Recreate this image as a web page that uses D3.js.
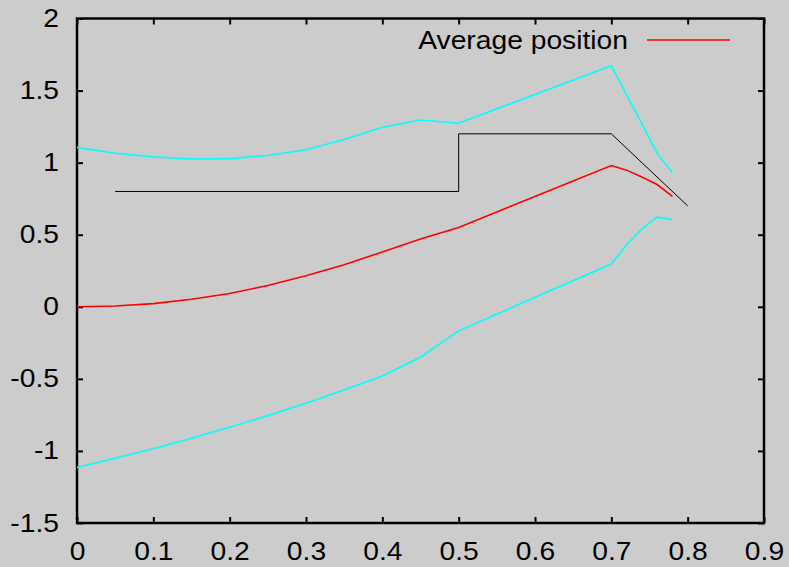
<!DOCTYPE html>
<html>
<head>
<meta charset="utf-8">
<script src="https://cdn.jsdelivr.net/npm/d3@7/dist/d3.min.js"></script>
<style>
  html, body { margin: 0; padding: 0; background: #cccccc; }
  svg { display: block; }
  text { font-family: 'Liberation Sans', Arial, sans-serif; }
</style>
</head>
<body>
<div id="plot"></div>
<script>
'use strict';

// x positions shared by the three curves
const xs = [0, 0.05, 0.1, 0.15, 0.2, 0.25, 0.3, 0.35, 0.4, 0.45, 0.5, 0.7, 0.72, 0.74, 0.76, 0.78]
const average = [0, 0.005, 0.022, 0.052, 0.092, 0.148, 0.215, 0.292, 0.38, 0.47, 0.55, 0.98, 0.948, 0.90, 0.848, 0.766]
const upper = [1.106, 1.065, 1.04, 1.025, 1.028, 1.05, 1.09, 1.16, 1.245, 1.296, 1.273, 1.672, 1.47, 1.27, 1.064, 0.93]
const lower = [-1.115, -1.05, -0.985, -0.912, -0.836, -0.755, -0.67, -0.578, -0.48, -0.35, -0.167, 0.297, 0.43, 0.54, 0.622, 0.604]

// black step line
const stepX = [0.05, 0.5, 0.5, 0.7, 0.8]
const stepY = [0.8, 0.8, 1.2, 1.2, 0.7]

const xTicks = [0, 0.1, 0.2, 0.3, 0.4, 0.5, 0.6, 0.7, 0.8, 0.9]
const yTicks = [-1.5, -1, -0.5, 0, 0.5, 1, 1.5, 2]
const legendLabel = 'Average position'

const width = 789, height = 567
const mLeft = 77, mRight = 764, mTop = 18.5, mBottom = 523
const stretch = 1.13

let svg = d3.select('#plot').append('svg')
  .attr('width', width)
  .attr('height', height)

svg.append('rect')
  .attr('width', width)
  .attr('height', height)
  .attr('fill', '#cccccc')

let x = d3.scaleLinear().domain([0, 0.9]).range([mLeft, mRight])
let y = d3.scaleLinear().domain([-1.5, 2]).range([mBottom, mTop])

let fmt = d => String(d)

let styleAxis = function(g) {
  g.select('.domain').remove()
  g.selectAll('.tick line').attr('stroke', '#000').attr('stroke-width', 2)
}

// bottom axis with labels
svg.append('g')
  .attr('transform', `translate(0, ${mBottom})`)
  .call(d3.axisBottom(x).tickValues(xTicks).tickFormat(fmt).tickSize(-6))
  .call(styleAxis)
  .call(g => g.selectAll('text')
    .attr('y', 37).attr('dy', null)
    .attr('transform', `scale(${stretch},1)`)
    .attr('font-size', 25).attr('fill', '#000')
    .attr('font-family', "'Liberation Sans', Arial, sans-serif"))

// top mirror ticks
svg.append('g')
  .attr('transform', `translate(0, ${mTop})`)
  .call(d3.axisTop(x).tickValues(xTicks).tickFormat('').tickSize(-6))
  .call(styleAxis)

// left axis with labels
svg.append('g')
  .attr('transform', `translate(${mLeft}, 0)`)
  .call(d3.axisLeft(y).tickValues(yTicks).tickFormat(fmt).tickSize(-6))
  .call(styleAxis)
  .call(g => g.selectAll('text')
    .attr('x', -18 / stretch)
    .attr('transform', `scale(${stretch},1)`)
    .attr('font-size', 25).attr('fill', '#000')
    .attr('font-family', "'Liberation Sans', Arial, sans-serif"))

// right mirror ticks
svg.append('g')
  .attr('transform', `translate(${mRight}, 0)`)
  .call(d3.axisRight(y).tickValues(yTicks).tickFormat('').tickSize(-6))
  .call(styleAxis)

// frame
svg.append('rect')
  .attr('x', mLeft)
  .attr('y', mTop)
  .attr('width', mRight - mLeft)
  .attr('height', mBottom - mTop)
  .attr('fill', 'none')
  .attr('stroke', '#000')
  .attr('stroke-width', 2.5)

let line = d3.line()
  .x(d => x(d[0]))
  .y(d => y(d[1]))

let drawSeries = function(xv, yv, color, w) {
  svg.append('path')
    .attr('d', line(xv.map((v, i) => [v, yv[i]])))
    .attr('fill', 'none')
    .attr('stroke', color)
    .attr('stroke-width', w)
    .attr('stroke-linejoin', 'miter')
}

drawSeries(xs, average, '#ff0000', 1.6)
drawSeries(xs, upper, '#00ffff', 1.6)
drawSeries(xs, lower, '#00ffff', 1.6)
drawSeries(stepX, stepY, '#000000', 1)

// legend
svg.append('text')
  .attr('x', 628 / stretch)
  .attr('y', 49)
  .attr('transform', `scale(${stretch},1)`)
  .attr('text-anchor', 'end')
  .attr('font-size', 25)
  .attr('fill', '#000')
  .text(legendLabel)

svg.append('line')
  .attr('x1', 647).attr('x2', 730)
  .attr('y1', 40).attr('y2', 40)
  .attr('stroke', '#ff0000')
  .attr('stroke-width', 1.6)
</script>
</body>
</html>
